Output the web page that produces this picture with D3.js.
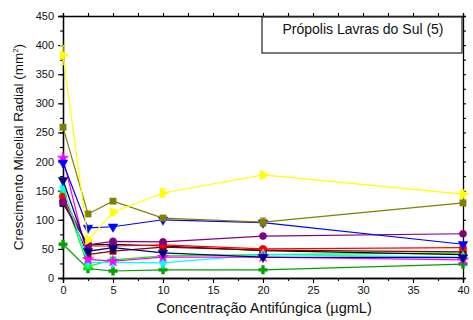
<!DOCTYPE html>
<html>
<head>
<meta charset="utf-8">
<script src="https://cdn.jsdelivr.net/npm/d3@7/dist/d3.min.js"></script>
<style>
  html, body { margin: 0; padding: 0; background: #fff; }
  svg { display: block; font-family: "Liberation Sans", Arial, sans-serif; }
</style>
</head>
<body>
<svg id="chart" width="473" height="320"></svg>
<script>
// Concentrations tested (µg/mL)
const concentrations = [0, 2.5, 5, 10, 20, 40];

// Radial mycelial growth (mm²) per isolate
const seriesNames = ["S1", "S2", "S3", "S4", "S5", "S6", "S7", "S8", "S9", "S10", "S11", "S12"];
const seriesColors = ["#00a000", "#00ff00", "#000000", "#800000", "#ff0000", "#800080",
                      "#00ffff", "#ff00ff", "#000080", "#0000ff", "#808000", "#ffff00"];
const seriesSymbols = ["cross", "square", "square", "square", "circle", "circle",
                       "diamond", "star", "tridown", "tridown", "square", "triright"];
const seriesValues = [
  [58, 16, 12, 14, 14, 24],
  [145, 20, 31, 38, 40, 43],
  [128, 57, 58, 55, 47, 40],
  [135, 40, 46, 53, 48, 45],
  [140, 55, 55, 57, 50, 52],
  [130, 57, 63, 62, 72, 76],
  [156, 27, 27, 26, 40, 36],
  [206, 32, 29, 36, 36, 31],
  [168, 46, 52, 43, 36, 35],
  [198, 86, 88, 100, 95, 58],
  [259, 110, 132, 103, 96, 129],
  [383, 65, 113, 146, 177, 144]
];
// Standard deviations (only the larger ones are visible)
const seriesErrors = [
  [0, 0, 0, 0, 0, 0],
  [0, 0, 0, 0, 0, 0],
  [0, 0, 0, 0, 0, 0],
  [0, 0, 0, 0, 0, 0],
  [0, 0, 0, 0, 0, 0],
  [0, 0, 0, 0, 0, 0],
  [0, 0, 0, 0, 0, 0],
  [0, 0, 0, 0, 0, 0],
  [0, 0, 0, 0, 0, 0],
  [0, 0, 0, 0, 0, 0],
  [4, 0, 4, 4, 7, 4],
  [16, 0, 5, 7, 5, 7]
];

const xTicks = [0, 5, 10, 15, 20, 25, 30, 35, 40];
const yTicks = [0, 50, 100, 150, 200, 250, 300, 350, 400, 450];
const legendTitle = "Própolis Lavras do Sul (5)";
const xTitle = "Concentração Antifúngica (µgmL)";

const svg = d3.select("#chart");
const mLeft = 63, mRight = 463, mTop = 16, mBottom = 278;

const x = d3.scaleLinear().domain([0, 40]).range([mLeft, mRight]);
const y = d3.scaleLinear().domain([0, 450]).range([mBottom, mTop]);

// Axes with major and minor ticks
const minorX = d3.range(0, 40.01, 2.5);
const minorY = d3.range(0, 450.01, 25);

function styleAxis(g) {
  g.selectAll(".domain").attr("stroke", "#000").attr("stroke-width", 1.3);
  g.selectAll(".tick line").attr("stroke", "#000").attr("stroke-width", 1.1);
  g.selectAll("text").attr("font-size", 11).attr("fill", "#111");
}

svg.append("g").attr("transform", `translate(0,${mBottom})`)
  .call(d3.axisBottom(x).tickValues(minorX).tickSize(3).tickFormat(""))
  .call(styleAxis);
svg.append("g").attr("transform", `translate(0,${mBottom})`)
  .call(d3.axisBottom(x).tickValues(xTicks).tickSize(5).tickPadding(3).tickFormat(d3.format("d")))
  .call(styleAxis);
svg.append("g").attr("transform", `translate(${mLeft},0)`)
  .call(d3.axisLeft(y).tickValues(minorY).tickSize(3).tickFormat(""))
  .call(styleAxis);
svg.append("g").attr("transform", `translate(${mLeft},0)`)
  .call(d3.axisLeft(y).tickValues(yTicks).tickSize(5).tickPadding(4).tickFormat(d3.format("d")))
  .call(styleAxis);
// Top and right frame
svg.append("g").attr("transform", `translate(0,${mTop})`)
  .call(d3.axisTop(x).tickValues(minorX).tickSize(3).tickFormat(""))
  .call(styleAxis);
svg.append("g").attr("transform", `translate(${mRight},0)`)
  .call(d3.axisRight(y).tickValues(minorY).tickSize(3).tickFormat(""))
  .call(styleAxis);

// Axis titles
svg.append("text")
  .attr("x", 264).attr("y", 313)
  .attr("text-anchor", "middle").attr("font-size", 14.5).attr("fill", "#111")
  .text(xTitle);

const yt = svg.append("text")
  .attr("transform", `translate(23,${(mTop + mBottom) / 2}) rotate(-90)`)
  .attr("text-anchor", "middle").attr("font-size", 13.5).attr("fill", "#111");
yt.append("tspan").text("Crescimento Micelial Radial (mm");
yt.append("tspan").attr("font-size", 8).attr("dy", -5).text("2");
yt.append("tspan").attr("dy", 5).text(")");

// Marker shapes
function symbolPath(kind, size) {
  switch (kind) {
    case "square": return d3.symbol(d3.symbolSquare, size)();
    case "circle": return d3.symbol(d3.symbolCircle, size)();
    case "diamond": return d3.symbol(d3.symbolDiamond, size)();
    case "star": return d3.symbol(d3.symbolStar, size)();
    case "cross": return d3.symbol(d3.symbolCross, size)();
    default: return d3.symbol(d3.symbolTriangle, size)();
  }
}
function symbolRotation(kind) {
  if (kind === "tridown") return 180;
  if (kind === "triright") return 90;
  return 0;
}

const line = d3.line().x(d => x(d[0])).y(d => y(d[1]));
const plot = svg.append("g");

seriesValues.forEach((vals, i) => {
  const pts = concentrations.map((c, j) => [c, vals[j], seriesErrors[i][j]]);
  const color = seriesColors[i];
  const g = plot.append("g");
  g.append("path").datum(pts)
    .attr("d", line).attr("fill", "none")
    .attr("stroke", color).attr("stroke-width", 1.2);
  // error bars
  g.selectAll(".err").data(pts.filter(p => p[2] > 0)).enter().append("path")
    .attr("stroke", color).attr("stroke-width", 1.1).attr("fill", "none")
    .attr("d", p => {
      const cx = x(p[0]), y1 = y(p[1] + p[2]), y2 = y(p[1] - p[2]);
      return `M${cx - 3},${y1}H${cx + 3}M${cx},${y1}V${y2}M${cx - 3},${y2}H${cx + 3}`;
    });
  g.selectAll(".mk").data(pts).enter().append("path")
    .attr("transform", p => `translate(${x(p[0])},${y(p[1])}) rotate(${symbolRotation(seriesSymbols[i])})`)
    .attr("d", symbolPath(seriesSymbols[i], 40))
    .attr("fill", color).attr("stroke", color).attr("stroke-width", 0.5);
});

// Legend box with title
svg.append("rect")
  .attr("x", 262).attr("y", 17).attr("width", 200).attr("height", 36)
  .attr("fill", "#fff").attr("stroke", "#333").attr("stroke-width", 1.3);
svg.append("text")
  .attr("x", 363).attr("y", 34).attr("text-anchor", "middle")
  .attr("font-size", 14).attr("fill", "#111")
  .text(legendTitle);
</script>
</body>
</html>
